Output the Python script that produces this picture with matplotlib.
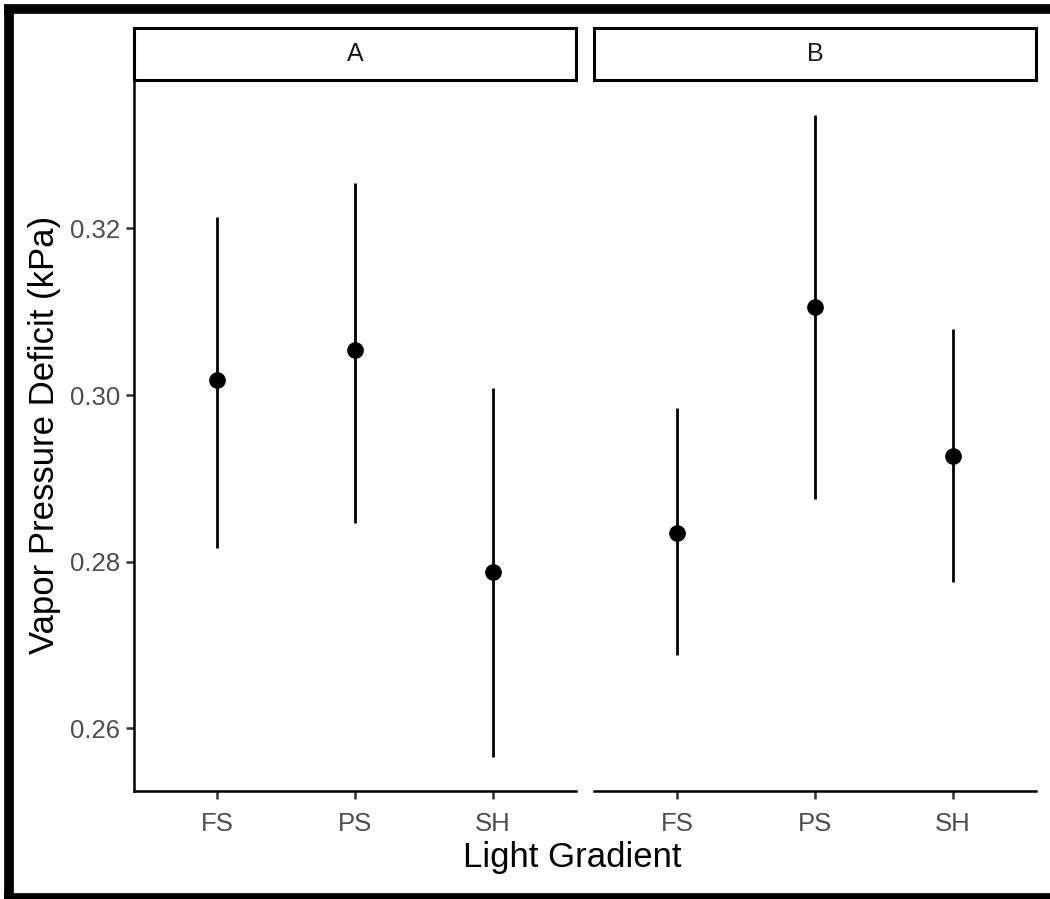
import numpy as np
import matplotlib.pyplot as plt
from matplotlib.lines import Line2D

plt.rcParams['font.family'] = ['Liberation Sans', 'DejaVu Sans']

# light levels and site panels
levels = ['FS', 'PS', 'SH']
panels = ['A', 'B']

# mean VPD (kPa) with lower/upper interval bounds per panel
vpd_mean = {'A': [0.3018, 0.3054, 0.2788], 'B': [0.2835, 0.3106, 0.2927]}
vpd_low = {'A': [0.2817, 0.2847, 0.2566], 'B': [0.2688, 0.2875, 0.2776]}
vpd_high = {'A': [0.3214, 0.3255, 0.3009], 'B': [0.2984, 0.3336, 0.3079]}

W, H = 1050, 899
fig = plt.figure(figsize=(W / 100, H / 100), dpi=100)

def fx(px):
    return px / W

def fy(py):
    return 1 - py / H

panel_x = {'A': (134, 576), 'B': (594, 1036)}
plot_top, plot_bottom = 80, 791
strip_top = 28
tick_grey = '#4D4D4D'

axes = []
for p in panels:
    x0, x1 = panel_x[p]
    ax = fig.add_axes([fx(x0), fy(plot_bottom), fx(x1 - x0), fy(plot_top) - fy(plot_bottom)])
    x = np.arange(1, 4)
    means = np.array(vpd_mean[p])
    lo = np.array(vpd_low[p])
    hi = np.array(vpd_high[p])
    ax.vlines(x, lo, hi, color='black', lw=2.0)
    ax.plot(x, means, 'o', color='black', ms=11)
    ax.set_xlim(0.4, 3.6)
    ax.set_ylim(0.2525, 0.3378)
    ax.set_xticks(x)
    ax.set_xticklabels(levels)
    ax.set_yticks([0.26, 0.28, 0.30, 0.32])
    ax.set_yticklabels(['0.26', '0.28', '0.30', '0.32'])
    for s in ['top', 'right']:
        ax.spines[s].set_visible(False)
    ax.spines['bottom'].set_linewidth(1.8)
    ax.spines['left'].set_linewidth(1.8)
    ax.tick_params(axis='both', length=6, width=1.8, color='#333333',
                   labelsize=18.5, labelcolor=tick_grey, pad=4)
    ax.tick_params(axis='x', pad=9)
    if p == 'B':
        ax.spines['left'].set_visible(False)
        ax.tick_params(axis='y', left=False, labelleft=False)
    axes.append(ax)

    # facet strip
    sx = fig.add_axes([fx(x0), fy(plot_top), fx(x1 - x0), fy(strip_top) - fy(plot_top)])
    sx.set_xticks([])
    sx.set_yticks([])
    for s in sx.spines.values():
        s.set_linewidth(2.2)
        s.set_color('black')
    sx.text(0.5, 0.5, p, ha='center', va='center', fontsize=18, color='#1A1A1A',
            transform=sx.transAxes)

fig.text(fx(45), fy(435), 'Vapor Pressure Deficit (kPa)', rotation=90,
         ha='center', va='center', fontsize=25)
fig.text(fx(572), fy(858), 'Light Gradient', ha='center', va='center', fontsize=25)

# outer frame
frame_kw = dict(color='black', lw=7, solid_capstyle='butt', transform=fig.transFigure)
fig.add_artist(Line2D([fx(8.5), fx(8.5)], [fy(5), fy(899)], **frame_kw))
fig.add_artist(Line2D([fx(4), fx(1050)], [fy(8.5), fy(8.5)], **frame_kw))
fig.add_artist(Line2D([fx(4), fx(1050)], [fy(898), fy(898)], **frame_kw))

fig.savefig('out.png', dpi=100, facecolor='white')
